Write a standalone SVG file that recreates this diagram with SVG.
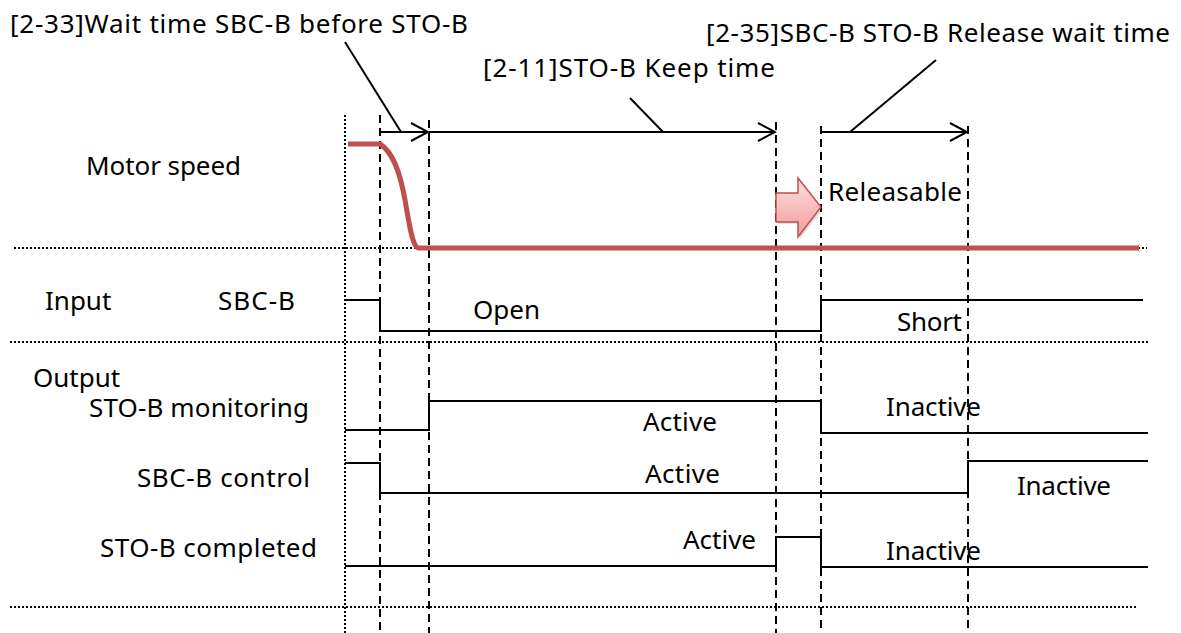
<svg xmlns="http://www.w3.org/2000/svg" width="1181" height="633" viewBox="0 0 1181 633">
<style>
text{font-family:"Noto Sans","Liberation Sans",sans-serif;font-size:26px;fill:#000}
.sig{fill:none;stroke:#000;stroke-width:2}
.dash{stroke:#000;stroke-width:2;stroke-dasharray:8,5}
.dot{stroke:#000;stroke-width:2;stroke-dasharray:2,2}
.ln{stroke:#000;stroke-width:2;fill:none}
</style>
<defs>
<linearGradient id="pk" x1="0" y1="0" x2="0" y2="1">
<stop offset="0" stop-color="#FFE0E0"/>
<stop offset="1" stop-color="#F39A9A"/>
</linearGradient>
<marker id="oa" markerWidth="20" markerHeight="20" refX="18" refY="10" orient="auto" markerUnits="userSpaceOnUse">
<path d="M1,1 L18,10 L1,19" fill="none" stroke="#000" stroke-width="2"/>
</marker>
</defs>
<g id="grid">
<line class="dot" x1="345" y1="115" x2="345" y2="633"/>
<line class="dash" x1="380" y1="115" x2="380" y2="633"/>
<line class="dash" x1="429" y1="120" x2="429" y2="633"/>
<line class="dash" x1="776" y1="122" x2="776" y2="633"/>
<line class="dash" x1="821" y1="126" x2="821" y2="633"/>
<line class="dash" x1="968" y1="126" x2="968" y2="633"/>
<line class="dot" x1="14" y1="248" x2="1147" y2="248"/>
<line class="dot" x1="10" y1="342" x2="1149" y2="342"/>
<line class="dot" x1="10" y1="607" x2="1138" y2="607"/>
</g>
<g id="connectors">
<line class="ln" x1="380" y1="132" x2="428" y2="132" marker-end="url(#oa)"/>
<line class="ln" x1="429" y1="132" x2="775" y2="132" marker-end="url(#oa)"/>
<line class="ln" x1="821" y1="132" x2="967" y2="132" marker-end="url(#oa)"/>
<line class="ln" x1="345" y1="42" x2="401" y2="132"/>
<line class="ln" x1="630" y1="98" x2="663" y2="132"/>
<line class="ln" x1="936" y1="60" x2="850" y2="132"/>
</g>
<g id="labels-top">
<text x="10" y="33" textLength="458">[2-33]Wait time SBC-B before STO-B</text>
<text x="483" y="77" textLength="292">[2-11]STO-B Keep time</text>
<text x="706" y="42" textLength="464">[2-35]SBC-B STO-B Release wait time</text>
</g>
<g id="motor-speed">
<text x="86" y="175" textLength="155">Motor speed</text>
<path d="M348,144 L380,144 C393,152 400,172 405,200 C409,222 412,246 418,248 L1139,248" fill="none" stroke="#C0504D" stroke-width="5"/>
<path d="M778,195 L800,195 L800,180 L823,209 L800,239 L800,224 L778,224 Z" fill="#000" opacity="0.12"/>
<path d="M776,193 L798,193 L798,178 L821,207 L798,237 L798,222 L776,222 Z" fill="url(#pk)" stroke="#C0504D" stroke-width="1.5"/>
<text x="828" y="201" textLength="134">Releasable</text>
</g>
<g id="sbc-b-input">
<text x="45" y="310">Input</text>
<text x="218" y="310" textLength="77">SBC-B</text>
<path class="sig" d="M345,300 L380,300 L380,331 L821,331 L821,300 L1143,300"/>
<text x="473" y="319" textLength="67">Open</text>
<text x="897" y="331" textLength="65">Short</text>
</g>
<g id="sto-b-monitoring">
<text x="33" y="387">Output</text>
<text x="89" y="417" textLength="220">STO-B monitoring</text>
<path class="sig" d="M345,430 L429,430 L429,401 L821,401 L821,433 L1148,433"/>
<text x="643" y="431" textLength="74">Active</text>
<text x="886" y="416" textLength="95">Inactive</text>
</g>
<g id="sbc-b-control">
<text x="137" y="487" textLength="173">SBC-B control</text>
<path class="sig" d="M345,463 L380,463 L380,493 L968,493 L968,461 L1148,461"/>
<text x="645" y="483" textLength="75">Active</text>
<text x="1017" y="495" textLength="94">Inactive</text>
</g>
<g id="sto-b-completed">
<text x="100" y="557" textLength="217">STO-B completed</text>
<path class="sig" d="M345,566 L776,566 L776,537 L821,537 L821,567 L1148,567"/>
<text x="683" y="549" textLength="73">Active</text>
<text x="886" y="560" textLength="95">Inactive</text>
</g>
</svg>
